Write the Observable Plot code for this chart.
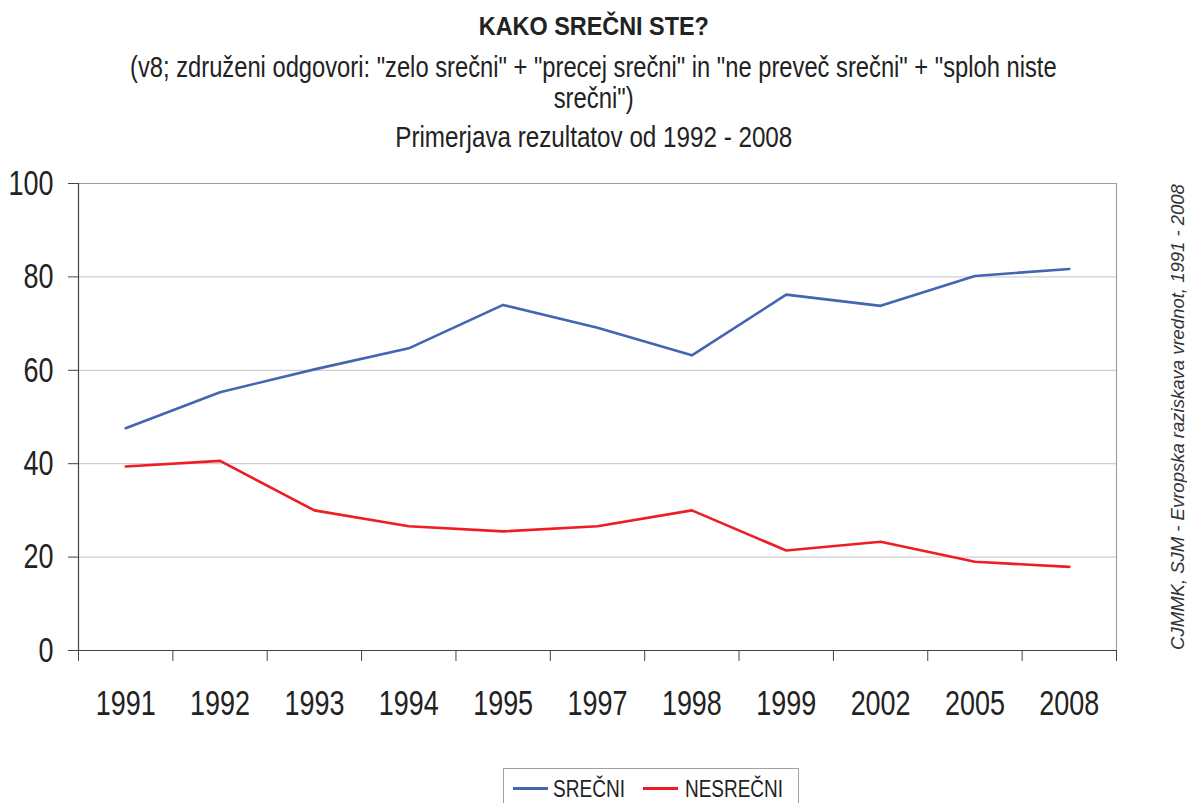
<!DOCTYPE html>
<html>
<head>
<meta charset="utf-8">
<script src="https://cdn.jsdelivr.net/npm/d3@7"></script>
<script src="https://cdn.jsdelivr.net/npm/@observablehq/plot@0.6"></script>
<style>
  html, body { margin: 0; padding: 0; background: #fff; overflow: hidden; }
  #wrap { position: relative; width: 1187px; height: 803px; overflow: hidden;
          font-family: "Liberation Sans", Arial, sans-serif; color: #222; }
  .t { position: absolute; left: 0; width: 1187px; text-align: center; white-space: nowrap; line-height: 1; }
  .t span, .lt span { display: inline-block; transform-origin: 50% 50%; }
  #chart { position: absolute; left: 0; top: 160px; }
  #legend { position: absolute; left: 503px; top: 768px; width: 296px; height: 40px; border: 1px solid #a0a0a0;
            box-sizing: border-box; }
  .sw { position: absolute; top: 18px; height: 3px; width: 35px; }
  .lt { position: absolute; top: 9px; font-size: 23px; line-height: 1; white-space: nowrap; }
  .lt span { transform-origin: 0 50%; }
</style>
</head>
<body>
<div id="wrap">
  <div class="t" style="top:13px;font-size:26px;font-weight:bold;"><span data-w="230">KAKO SREČNI STE?</span></div>
  <div class="t" style="top:53px;font-size:29px;"><span data-w="927">(v8; združeni odgovori: "zelo srečni" + "precej srečni" in "ne preveč srečni" + "sploh niste</span></div>
  <div class="t" style="top:84px;font-size:29px;"><span data-w="80">srečni")</span></div>
  <div class="t" style="top:123px;font-size:29px;"><span data-w="397">Primerjava rezultatov od 1992 - 2008</span></div>
  <div id="chart"></div>
  <div id="legend">
    <div class="sw" style="left:9px;background:#4466b0;"></div>
    <div class="lt" style="left:49px;"><span data-w="72">SREČNI</span></div>
    <div class="sw" style="left:139px;background:#ee1c25;"></div>
    <div class="lt" style="left:181px;"><span data-w="98">NESREČNI</span></div>
  </div>
</div>
<script>
const years = ["1991","1992","1993","1994","1995","1997","1998","1999","2002","2005","2008"];
const srecni = [47.6, 55.3, 60.2, 64.7, 74.0, 69.1, 63.2, 76.2, 73.8, 80.2, 81.7];
const nesrecni = [39.4, 40.6, 30.0, 26.6, 25.5, 26.6, 30.0, 21.4, 23.3, 19.0, 17.9];
const yTicks = [0, 20, 40, 60, 80, 100];
const sourceNote = "CJMMK, SJM - Evropska raziskava vrednot, 1991 - 2008";

const idx = years.map((_, i) => i);
const bounds = d3.range(-0.5, years.length, 1);
const dataS = idx.map(i => ({i, v: srecni[i]}));
const dataN = idx.map(i => ({i, v: nesrecni[i]}));

const chart = Plot.plot({
  width: 1187,
  height: 600,
  marginLeft: 78,
  marginRight: 71,
  marginTop: 23,
  marginBottom: 110,
  style: { fontFamily: '"Liberation Sans", Arial, sans-serif', color: "#222", background: "transparent", overflow: "visible" },
  x: { type: "linear", domain: [-0.5, years.length - 0.5] },
  y: { domain: [0, 100] },
  marks: [
    Plot.ruleY([20, 40, 60, 80], { stroke: "#cfcfcf", strokeWidth: 1.2 }),
    Plot.ruleY([100], { stroke: "#a0a0a0", strokeWidth: 1.2 }),
    Plot.ruleX([years.length - 0.5], { stroke: "#a0a0a0", strokeWidth: 1.2 }),
    Plot.ruleX([-0.5], { stroke: "#444", strokeWidth: 1.2 }),
    Plot.ruleY([0], { stroke: "#444", strokeWidth: 1.2 }),
    Plot.axisY({ ticks: yTicks, tickSize: 10, tickPadding: 15, fontSize: 35, stroke: "#444", label: null, tickFormat: d => d }),
    Plot.axisX({ ticks: bounds, tickSize: 11, tickFormat: () => "", stroke: "#444", label: null }),
    Plot.axisX({ ticks: idx, tickSize: 0, tickPadding: 40, fontSize: 35, tickFormat: i => years[i], label: null }),
    Plot.line(dataS, { x: "i", y: "v", stroke: "#4466b0", strokeWidth: 2.6 }),
    Plot.line(dataN, { x: "i", y: "v", stroke: "#ee1c25", strokeWidth: 2.6 }),
    Plot.text([sourceNote], { frameAnchor: "right", dx: 62, rotate: -90, textAnchor: "middle", fontSize: 18.5, fontStyle: "italic", fill: "#333" })
  ]
});
document.getElementById("chart").appendChild(chart);

// condense the tick labels horizontally around their anchor points
chart.querySelectorAll('g[aria-label="x-axis tick label"] text, g[aria-label="y-axis tick label"] text').forEach(t => {
  const x = +t.getAttribute("x") || 0, y = +t.getAttribute("y") || 0;
  const prev = t.getAttribute("transform") || "";
  t.setAttribute("transform", `${prev} translate(${x},${y}) scale(0.77,1) translate(${-x},${-y})`);
});

// fit HTML text to the reference widths
document.querySelectorAll("span[data-w]").forEach(s => {
  const w = s.getBoundingClientRect().width;
  s.style.transform = `scaleX(${(+s.dataset.w / w).toFixed(3)})`;
});
</script>
</body>
</html>
